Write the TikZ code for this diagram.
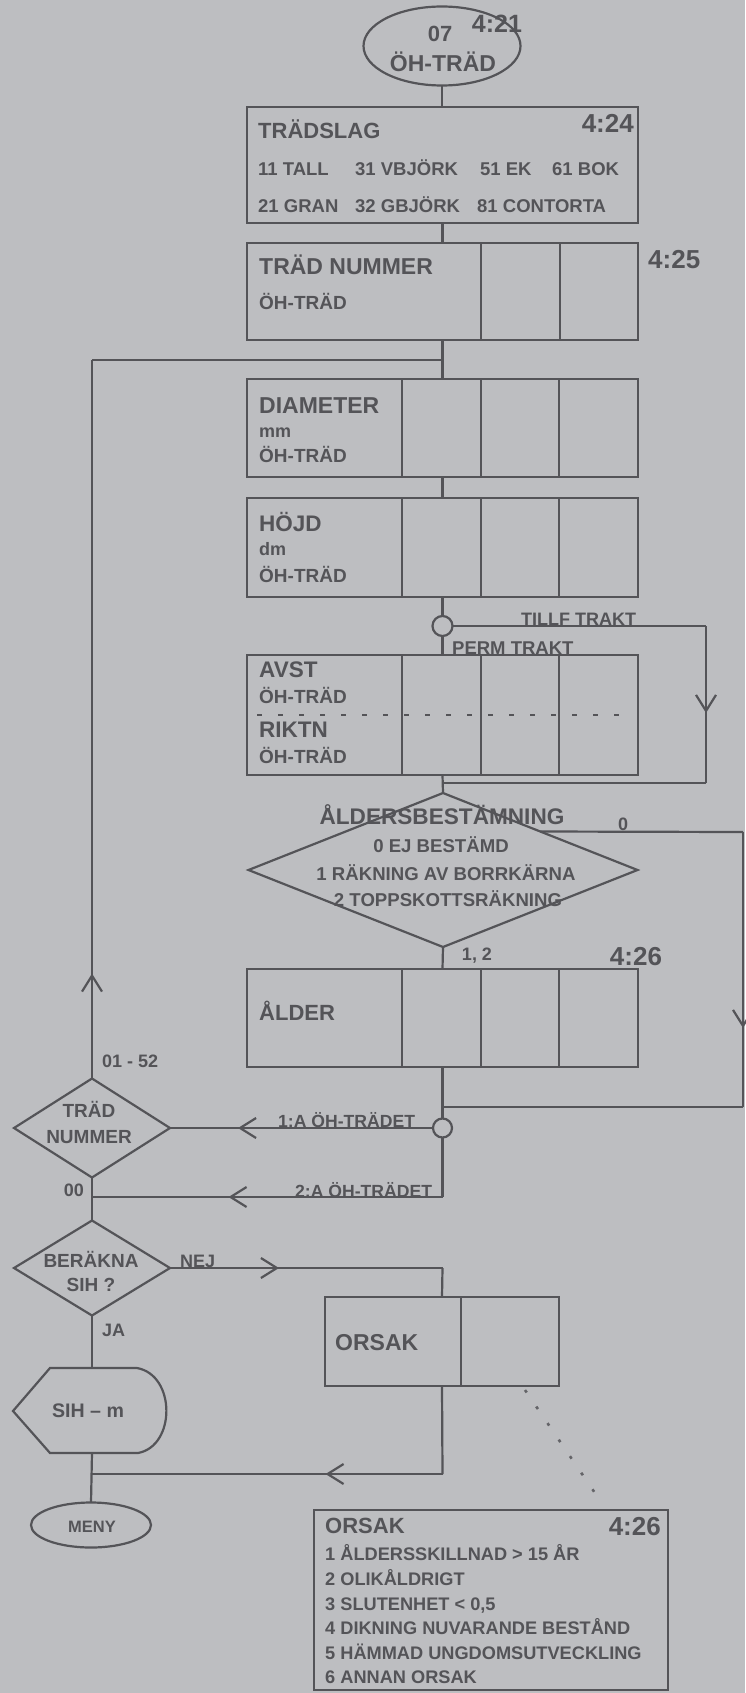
\documentclass[tikz,border=0pt]{standalone}
\usepackage{fontspec}
\setmainfont{Liberation Sans}
\usetikzlibrary{shapes.geometric,arrows.meta,decorations.markings}
\definecolor{bg}{RGB}{189,190,193}
\definecolor{ink}{RGB}{84,84,88}
\begin{document}
\begin{tikzpicture}[x=1pt,y=-1pt,
  ln/.style={draw=ink,line width=2.2pt},
  box/.style={ln,rectangle,inner sep=0pt,outer sep=0pt,minimum width=391pt},
  dia/.style={ln,diamond,inner sep=0pt,outer sep=0pt},
  fs/.style={font=\bfseries\fontsize{#1}{#1}\selectfont,text=ink,inner sep=0pt},
  barb/.style={postaction={decorate},decoration={markings,mark=at position #1 with {\arrow[ink,line width=2.2pt]{Straight Barb[length=16pt,width=20pt]}}}}]
\fill[bg] (0,0) rectangle (745,1693);
\useasboundingbox (0,0) rectangle (745,1693);

% ---------- start ellipse ----------
\node[ln,ellipse,inner sep=0pt,outer sep=0pt,minimum width=157pt,minimum height=79pt] (start) at (442,46) {};
\node[fs=22,anchor=base] (t07) at (440,42) {07};
\node[fs=25,anchor=base] (c421) at (497,33) {4:21};
\node[fs=23,anchor=base] (toh0) at (443,72) {ÖH-TRÄD};

% ---------- TRÄDSLAG ----------
\node[box,minimum height=116pt] (tradslag) at (442.5,165) {};
\node[fs=22,anchor=base west] (tts) at (258,139) {TRÄDSLAG};
\node[fs=26,anchor=base east] (c424) at (634,133) {4:24};
\node[fs=18.5,anchor=base west] (s11) at (258,176) {11 TALL};
\node[fs=18.5,anchor=base west] (s31) at (355,176) {31 VBJÖRK};
\node[fs=18.5,anchor=base west] (s51) at (480,176) {51 EK};
\node[fs=18.5,anchor=base west] (s61) at (552,176) {61 BOK};
\node[fs=18.5,anchor=base west] (s21) at (258,213) {21 GRAN};
\node[fs=18.5,anchor=base west] (s32) at (355,213) {32 GBJÖRK};
\node[fs=18.5,anchor=base west] (s81) at (477,213) {81 CONTORTA};

% ---------- TRÄD NUMMER ----------
\node[box,minimum height=97pt] (nummer) at (442.5,291.5) {};
\foreach \s in {234,313} \draw[ln] ([xshift=\s pt]nummer.north west) -- ([xshift=\s pt]nummer.south west);
\node[fs=23,anchor=base west] (tnr) at (259,275) {TRÄD NUMMER};
\node[fs=19,anchor=base west] (oh1) at (259,309) {ÖH-TRÄD};
\node[fs=26,anchor=base west] (c425) at (648,269) {4:25};

% ---------- DIAMETER ----------
\node[box,minimum height=98pt] (diam) at (442.5,428) {};
\node[fs=23,anchor=base west] (tdia) at (259,413) {DIAMETER};
\node[fs=18,anchor=base west] (tmm) at (259,437) {mm};
\node[fs=19,anchor=base west] (oh2) at (259,462) {ÖH-TRÄD};

% ---------- HÖJD ----------
\node[box,minimum height=99pt] (hojd) at (442.5,547.5) {};
\node[fs=22.5,anchor=base west] (thojd) at (259,531) {HÖJD};
\node[fs=18,anchor=base west] (tdm) at (259,555) {dm};
\node[fs=19,anchor=base west] (oh3) at (259,582) {ÖH-TRÄD};

% ---------- junction circle 1 ----------
\node[ln,circle,inner sep=0pt,outer sep=0pt,minimum size=20pt] (c1) at (442.5,626) {};
\node[fs=18,anchor=base west] (ttillf) at (521,625) {TILLF TRAKT};
\node[fs=18.5,anchor=base west] (tperm) at (452,654) {PERM TRAKT};

% ---------- AVST / RIKTN ----------
\node[box,minimum height=120pt] (avst) at (442.5,715) {};
\node[fs=22.5,anchor=base west] (tavst) at (259,677) {AVST};
\node[fs=19,anchor=base west] (oh4) at (259,703) {ÖH-TRÄD};
\node[fs=22.5,anchor=base west] (trikt) at (259,737) {RIKTN};
\node[fs=19,anchor=base west] (oh5) at (259,763) {ÖH-TRÄD};
\draw[ink,line width=1.8pt,dash pattern=on 5pt off 16pt] ([xshift=10pt]avst.west) -- ([xshift=-14pt]avst.east);

\foreach \n in {diam,hojd,avst} \foreach \s in {155,234,312} \draw[ln] ([xshift=\s pt]\n.north west) -- ([xshift=\s pt]\n.south west);

% ---------- ÅLDERSBESTÄMNING diamond ----------
\node[dia,minimum width=389pt,minimum height=154pt] (d1) at (443,870) {};
\node[fs=22.6,anchor=base] (tab) at (442,824) {ÅLDERSBESTÄMNING};
\node[fs=18.6,anchor=base] (tab0) at (441,852) {0 EJ BESTÄMD};
\node[fs=18.6,anchor=base] (tab1) at (446,880) {1 RÄKNING AV BORRKÄRNA};
\node[fs=18.6,anchor=base] (tab2) at (448,906) {2 TOPPSKOTTSRÄKNING};
\node[fs=18,anchor=base] (tzero) at (623,830) {0};
\node[fs=18,anchor=base] (t12) at (477,960) {1, 2};
\node[fs=26,anchor=base] (c426a) at (636,965) {4:26};

% ---------- ÅLDER ----------
\node[box,minimum height=98pt] (alder) at (442.5,1018) {};
\foreach \s in {155,234,312} \draw[ln] ([xshift=\s pt]alder.north west) -- ([xshift=\s pt]alder.south west);
\node[fs=22,anchor=base west] (talder) at (259,1020) {ÅLDER};

% ---------- junction circle 2 ----------
\node[ln,circle,inner sep=0pt,outer sep=0pt,minimum size=19pt] (c2) at (442.5,1128) {};

% ---------- left column ----------
\node[dia,minimum width=156pt,minimum height=99pt] (d2) at (92,1128) {};
\node[fs=19,anchor=base] (td2a) at (89,1117) {TRÄD};
\node[fs=19,anchor=base] (td2b) at (89,1143) {NUMMER};
\node[fs=18,anchor=base west] (t0152) at (102,1067) {01 - 52};
\node[fs=17.6,anchor=base west] (t1a) at (278,1127) {1:A ÖH-TRÄDET};
\node[fs=18,anchor=base] (t00) at (74,1196) {00};
\node[fs=17.6,anchor=base west] (t2a) at (295,1197) {2:A ÖH-TRÄDET};

\node[dia,minimum width=156pt,minimum height=95pt] (d3) at (92,1268) {};
\node[fs=19,anchor=base] (td3a) at (91,1267) {BERÄKNA};
\node[fs=19,anchor=base] (td3b) at (91,1291) {SIH ?};
\node[fs=18,anchor=base west] (tnej) at (180,1267) {NEJ};
\node[fs=18,anchor=base west] (tja) at (102,1336) {JA};

% ---------- ORSAK box ----------
\node[ln,rectangle,inner sep=0pt,outer sep=0pt,minimum width=234pt,minimum height=89pt] (orsak) at (442,1341.5) {};
\draw[ln] ([xshift=136pt]orsak.north west) -- ([xshift=136pt]orsak.south west);
\node[fs=23,anchor=base west] (torsak) at (335,1350) {ORSAK};

% ---------- SIH display ----------
\draw[ln] (50,1368) -- (137,1368) .. controls (176,1375) and (176,1446) .. (138,1453) -- (50,1453) -- (13,1411) -- cycle;
\coordinate (sihT) at (92,1368);
\coordinate (sihB) at (92,1453);
\node[fs=19.6,anchor=base] (tsih) at (88,1417) {SIH – m};

% ---------- MENY ----------
\node[ln,ellipse,inner sep=0pt,outer sep=0pt,minimum width=120pt,minimum height=45pt] (meny) at (91,1525) {};
\node[fs=16.5,anchor=base] (tmeny) at (92,1532) {MENY};

% ---------- ORSAK list ----------
\node[draw=ink,line width=2.8pt,rectangle,inner sep=0pt,outer sep=0pt,minimum width=354pt,minimum height=180pt] (lista) at (491,1600) {};
\node[fs=22,anchor=base west] (lorsak) at (325,1533) {ORSAK};
\node[fs=26,anchor=base east] (c426b) at (661,1535) {4:26};
\node[fs=18.2,anchor=base west] (l1) at (325,1560) {1 ÅLDERSSKILLNAD > 15 ÅR};
\node[fs=18.2,anchor=base west] (l2) at (325,1585) {2 OLIKÅLDRIGT};
\node[fs=18.2,anchor=base west] (l3) at (325,1610) {3 SLUTENHET < 0,5};
\node[fs=18.2,anchor=base west] (l4) at (325,1634) {4 DIKNING NUVARANDE BESTÅND};
\node[fs=18.2,anchor=base west] (l5) at (325,1659) {5 HÄMMAD UNGDOMSUTVECKLING};
\node[fs=18.2,anchor=base west] (l6) at (325,1683) {6 ANNAN ORSAK};

% ---------- coordinates for connector corners ----------
\coordinate (loopc) at (92,360);
\coordinate (loopj) at (442.5,360);
\coordinate (tf1) at (706,626);
\coordinate (tf2) at (706,783);
\coordinate (tf3) at (442.5,783);
\coordinate (r0) at (743,832);
\coordinate (r1) at (743,1107);
\coordinate (r2) at (442.5,1107);
\coordinate (j3) at (442.5,1197);
\coordinate (j4) at (92,1197);
\coordinate (n1) at (442.5,1268);
\coordinate (b1) at (442.5,1474);
\coordinate (b2) at (92,1474);
\coordinate (dot1) at (525,1390);
\coordinate (dot2) at (597,1496);

% ---------- connectors ----------
\draw[ln] (start.south) -- (start.south |- tradslag.north);
\draw[ln] (tradslag.south) -- (nummer.north);
\draw[ln] (nummer.south) -- (diam.north);
\draw[ln] (diam.south) -- (hojd.north);
\draw[ln] (hojd.south) -- (c1.north);
\draw[ln] (c1.south) -- (avst.north);
\draw[ln] (c1.east) -- (tf1);
\draw[ln,barb=87pt] (tf1) -- (tf2);
\draw[ln] (tf2) -- (tf3);
\draw[ln] (avst.south) -- (d1.north);
\draw[ln] (d1.south) -- (alder.north);
\draw[ln] (d1.north east) -- (r0);
\draw[ln,barb=196pt] (r0) -- (r1);
\draw[ln] (r1) -- (r2);
\draw[ln] (alder.south) -- (c2.north);
\draw[ln,barb=195pt] (c2.west) -- (d2.east);
\draw[ln] (c2.south) -- (j3);
\draw[ln,barb=214pt] (j3) -- (j4);
\draw[ln,barb=105pt] (d2.north) -- (loopc);
\draw[ln] (loopc) -- (loopj);
\draw[ln] (d2.south) -- (d3.north);
\draw[ln,barb=109pt] (d3.east) -- (n1);
\draw[ln] (n1) -- (orsak.north);
\draw[ln] (d3.south) -- (sihT);
\draw[ln] (sihB) -- (meny.north);
\draw[ln] (orsak.south) -- (b1);
\draw[ln,barb=117pt] (b1) -- (b2);
\draw[draw=ink!85!bg,line width=2.6pt,dash pattern=on 3pt off 17pt] (dot1) -- (dot2);
\end{tikzpicture}
\end{document}
